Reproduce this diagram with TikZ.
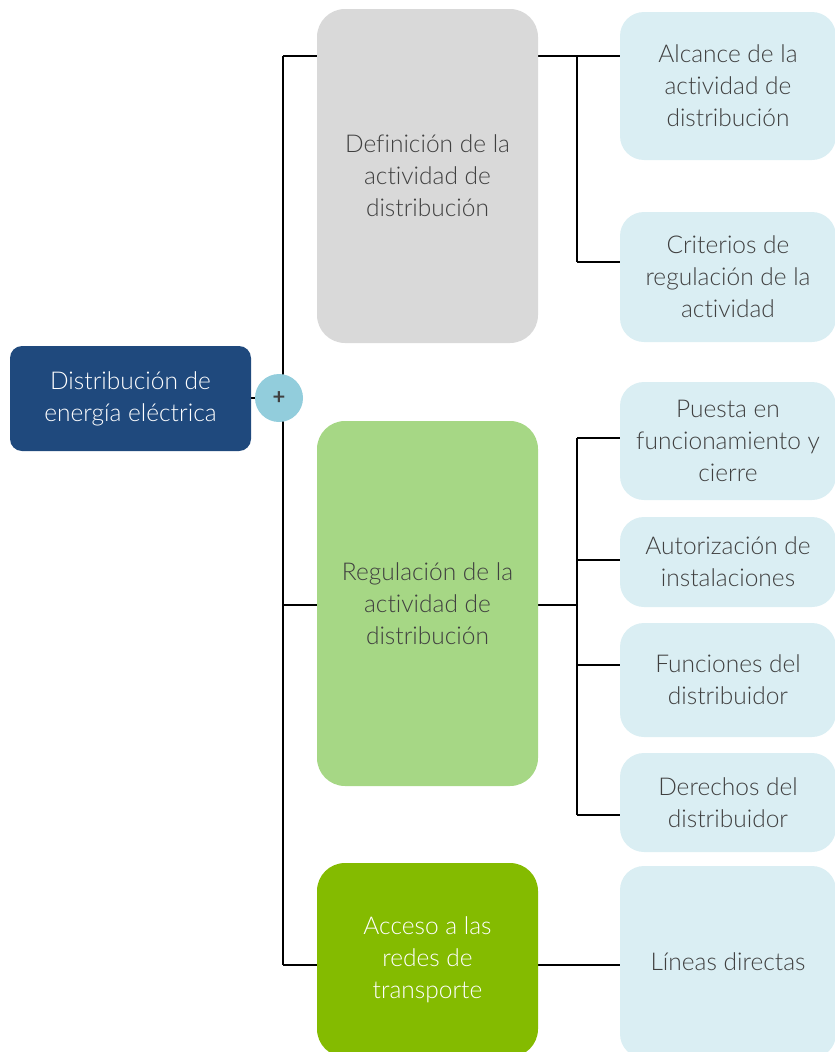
\documentclass[tikz,border=0pt]{standalone}
\usepackage{fontspec}
\setmainfont{Lato}[UprightFont=* Light, BoldFont=* Bold, Ligatures={NoCommon}]
\begin{document}
\begin{tikzpicture}[x=1pt,y=-1pt,
  base/.style={rounded corners=28pt, align=center, inner sep=0pt, font=\fontsize{24.5}{32}\selectfont, minimum width=221pt},
  root/.style={base, rounded corners=12pt, fill=rootblue, text=white, minimum width=241pt, minimum height=105pt},
  lvone/.style={base},
  leaf/.style={base, rounded corners=24pt, fill=leafblue, text=leaftext, minimum width=216pt},
  conn/.style={draw=black, line width=1.6pt}
]
\definecolor{rootblue}{HTML}{1F497D}
\definecolor{plusblue}{HTML}{92CDDC}
\definecolor{graybox}{HTML}{D9D9D9}
\definecolor{greenlight}{HTML}{A6D785}
\definecolor{greendark}{HTML}{84BB00}
\definecolor{leafblue}{HTML}{DAEEF3}
\definecolor{leaftext}{HTML}{404040}
\useasboundingbox (0,0) rectangle (835,1052);
\begin{scope}
\clip (0,0) rectangle (835,1052);
% coordinates for connector routing
\coordinate (ttop) at (283,56);
\coordinate (tbot) at (283,965);
\coordinate (tmid) at (283,605);
\coordinate (bdef) at (577,56);
\coordinate (bdefb) at (577,262);
\coordinate (breg) at (577,605);
\coordinate (brega) at (577,438);
\coordinate (bregb) at (577,560);
\coordinate (bregc) at (577,665);
\coordinate (bregd) at (577,815);

% connectors first (under boxes)
\draw[conn] (ttop) -- (tbot);
\draw[conn] (ttop) -- (bdef);
\draw[conn] (tmid) -- (breg);
\draw[conn] (tbot) -- (740,965);
\draw[conn] (bdef) -- (bdefb);
\draw[conn] (bdef) -- (640,56);
\draw[conn] (bdefb) -- (640,262);
\draw[conn] (brega) -- (bregd);
\draw[conn] (brega) -- (640,438);
\draw[conn] (bregb) -- (640,560);
\draw[conn] (bregc) -- (640,665);
\draw[conn] (bregd) -- (640,815);
\draw[conn] (240,398) -- (283,398);

% root
\node[root] (root) at (130.5,398.5) {Distribución de\\energía eléctrica};
\node[circle, fill=plusblue, minimum size=48pt, inner sep=0pt, text=leaftext, font=\bfseries\fontsize{22}{22}\selectfont] (plus) at (279,398) {+};

% level one
\node[lvone, fill=graybox, text=leaftext, minimum height=334pt] (def) at (427.5,176) {Definición de la\\actividad de\\distribución};
\node[lvone, fill=greenlight, text=leaftext, minimum height=365pt] (reg) at (427.5,603.5) {Regulación de la\\actividad de\\distribución};
\node[lvone, fill=greendark, text=white, minimum height=194pt] (acc) at (427.5,960) {Acceso a las\\redes de\\transporte};

% leaves
\node[leaf, minimum height=148pt] (alc) at (728,86) {Alcance de la\\actividad de\\distribución};
\node[leaf, minimum height=130pt] (cri) at (728,277) {Criterios de\\regulación de la\\actividad};
\node[leaf, minimum height=118pt] (pue) at (728,441) {Puesta en\\funcionamiento y\\cierre};
\node[leaf, minimum height=90pt] (aut) at (728,562) {Autorización de\\instalaciones};
\node[leaf, minimum height=114pt] (fun) at (728,680) {Funciones del\\distribuidor};
\node[leaf, minimum height=99pt] (der) at (728,802.5) {Derechos del\\distribuidor};
\node[leaf, minimum height=192pt] (lin) at (728,962) {Líneas directas};
\end{scope}
\end{tikzpicture}
\end{document}
